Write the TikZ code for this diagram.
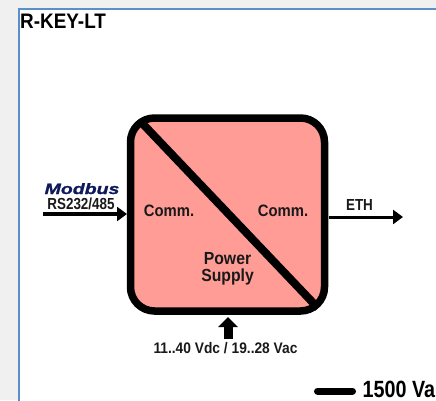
\documentclass[tikz,border=0pt]{standalone}
\usepackage{fontspec}
\setmainfont{Liberation Sans}
\newfontfamily\condfont[FakeStretch=0.9]{Liberation Sans}
\newfontfamily\narrowfont[FakeStretch=0.84]{Liberation Sans}
\newfontfamily\wideitfont[FakeStretch=1.3, FakeBold=1.2]{Liberation Sans}
\usepackage{xcolor}
\usetikzlibrary{arrows.meta, positioning}
\definecolor{PageGrey}{HTML}{F0F0F0}
\definecolor{FrameBlue}{HTML}{5B8FC8}
\definecolor{BoxSalmon}{HTML}{FF9C96}
\definecolor{ModbusNavy}{HTML}{0F1A5C}
\tikzset{
    label text/.style={font=\condfont\bfseries\fontsize{16.5}{16.5}\selectfont, inner sep=0pt, text=black!90},
    small text/.style={font=\narrowfont\bfseries\fontsize{16}{16}\selectfont, inner sep=0pt, text=black!90},
    signal/.style={line width=3pt, -{Triangle[length=10pt, width=14pt]}}
}
\begin{document}
\begin{tikzpicture}[x=1pt, y=-1pt]
    \useasboundingbox (0,0) rectangle (436,400);
    \fill[PageGrey] (0,0) rectangle (436,400);
    \draw[FrameBlue, fill=white, line width=2pt] (18.5,402) -- (18.5,8.5) -- (438,8.5) -- (438,402);
    \node[anchor=base west, inner sep=0pt, font=\condfont\bfseries\fontsize{21}{21}\selectfont] (title) at (20,28) {R-KEY-LT};

    % Module
    \coordinate (nw) at (130.5,118);
    \coordinate (se) at (324.5,311);
    \fill[BoxSalmon, rounded corners=24pt] (nw) rectangle (se);
    \draw[black, line width=8pt] (141,122) -- (318,308);
    \draw[black, line width=7.5pt, rounded corners=24pt] (nw) rectangle (se);

    \node[label text] (commin) at (169,211) {Comm.};
    \node[label text] (commout) at (283,211) {Comm.};
    \node[label text, align=center, font=\condfont\bfseries\fontsize{17.5}{16.5}\selectfont] (power) at (227.5,269) {Power\\Supply};

    % Signals
    \coordinate (inport) at (43,214);
    \coordinate (outport) at (403,217);
    \node[font=\wideitfont\bfseries\itshape\fontsize{15}{15}\selectfont, text=ModbusNavy, inner sep=0pt, anchor=base] (modbus) at (82,194) {Modbus};
    \node[small text, anchor=base] (serial) at (81,209) {RS232/485};
    \draw[signal, line width=3.5pt] (inport) -- (127,214);
    \draw[signal] (329,217) -- (outport);
    \node[small text, anchor=base] (eth) at (359.5,210) {ETH};

    \coordinate (supply) at (228,339);
    \draw[signal, line width=9pt, -{Triangle[length=10pt, width=19pt]}] (supply) -- (228,317);
    \node[small text, font=\condfont\bfseries\fontsize{15.3}{15.3}\selectfont] (volt) at (225.5,348.5) {11..40 Vdc / 19..28 Vac};

    % Isolation
    \coordinate (isoa) at (317.5,391);
    \coordinate (isob) at (352.5,391);
    \draw[line width=7pt, line cap=round] (isoa) -- (isob);
    \node[anchor=base west, inner sep=0pt, font=\narrowfont\bfseries\fontsize{23.5}{23.5}\selectfont] (iso) at (362.5,397) {1500 Va};
\end{tikzpicture}
\end{document}
